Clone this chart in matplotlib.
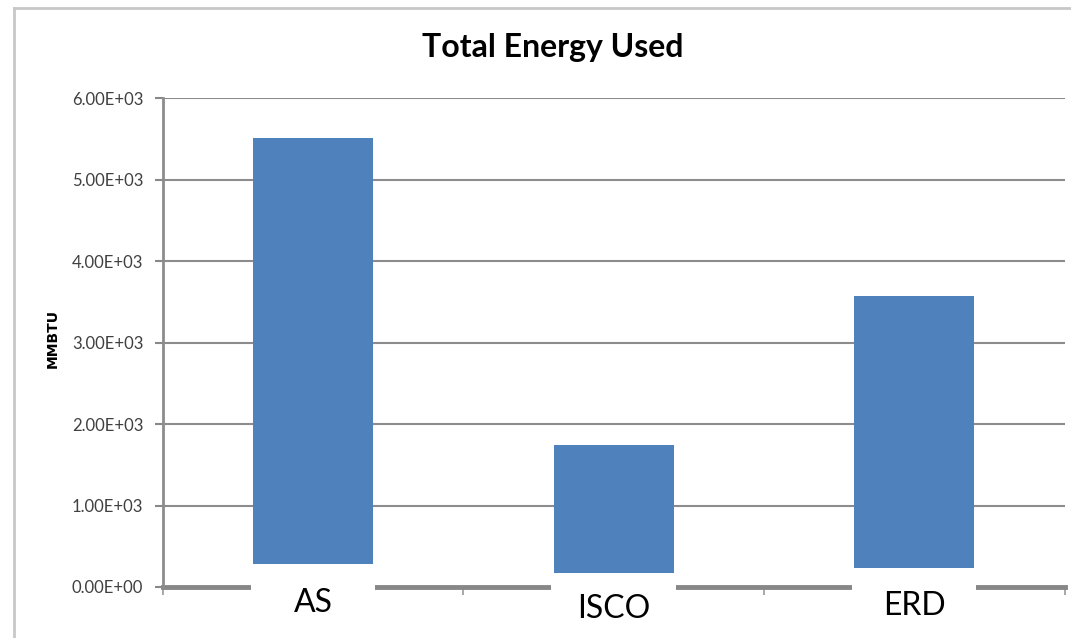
import matplotlib
matplotlib.use("Agg")
import matplotlib.pyplot as plt
from matplotlib.patches import Rectangle
from matplotlib.lines import Line2D
from matplotlib.ticker import FuncFormatter

categories = ["AS", "ISCO", "ERD"]
energy = [5510, 1740, 3570]          # MMBTU
label_box_top = [280, 170, 230]      # where the white category-label boxes start
label_y = [-195, -270, -230]         # vertical spot of each category label
yticks = [0, 1000, 2000, 3000, 4000, 5000, 6000]

plt.rcParams["font.family"] = ["Lato", "DejaVu Sans"]

fig = plt.figure(figsize=(10.71, 6.38), dpi=100)
ax = fig.add_axes([0.152, 0.080, 0.842, 0.766])

# outer chart border (top and left only, as in the screenshot)
fig.add_artist(Line2D([14 / 1071, 1.0], [1 - 8 / 638, 1 - 8 / 638],
                      transform=fig.transFigure, color="#c8c8c8", lw=2))
fig.add_artist(Line2D([14 / 1071, 14 / 1071], [0, 1 - 8 / 638],
                      transform=fig.transFigure, color="#c8c8c8", lw=2))

x = range(len(categories))
ax.bar(x, energy, width=0.4, color="#4F81BD", zorder=3)

ax.set_xlim(-0.5, len(categories) - 0.5)
ax.set_ylim(0, 6000)
ax.set_yticks(yticks)
ax.yaxis.set_major_formatter(FuncFormatter(lambda v, _: f"{v:.2E}"))
ax.tick_params(axis="y", labelsize=12, labelcolor="#404040", color="#888888",
               length=6, width=1.5, pad=8)
ax.grid(axis="y", color="#8c8c8c", lw=1.5, zorder=1)

# category boundary ticks on x axis
ax.set_xticks([-0.5, 0.5, 1.5, 2.5])
ax.set_xticklabels([])
ax.tick_params(axis="x", color="#999999", length=6, width=1.2)

for s in ("top", "right"):
    ax.spines[s].set_visible(False)
ax.spines["left"].set_color("#8c8c8c")
ax.spines["left"].set_linewidth(2)
ax.spines["bottom"].set_color("#878787")
ax.spines["bottom"].set_linewidth(3.5)
ax.spines["bottom"].set_zorder(2)

# white label boxes that cover the bottom of each bar and the axis line
for i, (cat, top, ly) in enumerate(zip(categories, label_box_top, label_y)):
    ax.add_patch(Rectangle((i - 0.207, -600), 0.414, top + 600,
                           facecolor="white", edgecolor="none",
                           clip_on=False, zorder=5))
    ax.text(i, ly, cat, ha="center", va="center", fontsize=23,
            color="black", zorder=6, clip_on=False)

# y label placed as plain text so size and font are exact
fig.text(53 / 1071, 1 - 338 / 638, "MMBTU", rotation=90, ha="center",
         va="center", fontsize=10, fontweight="bold", family="DejaVu Sans")

fig.text(0.516, 0.925, "Total Energy Used", ha="center", va="center",
         fontsize=23, fontweight="bold")

fig.savefig("out.png", dpi=100)
